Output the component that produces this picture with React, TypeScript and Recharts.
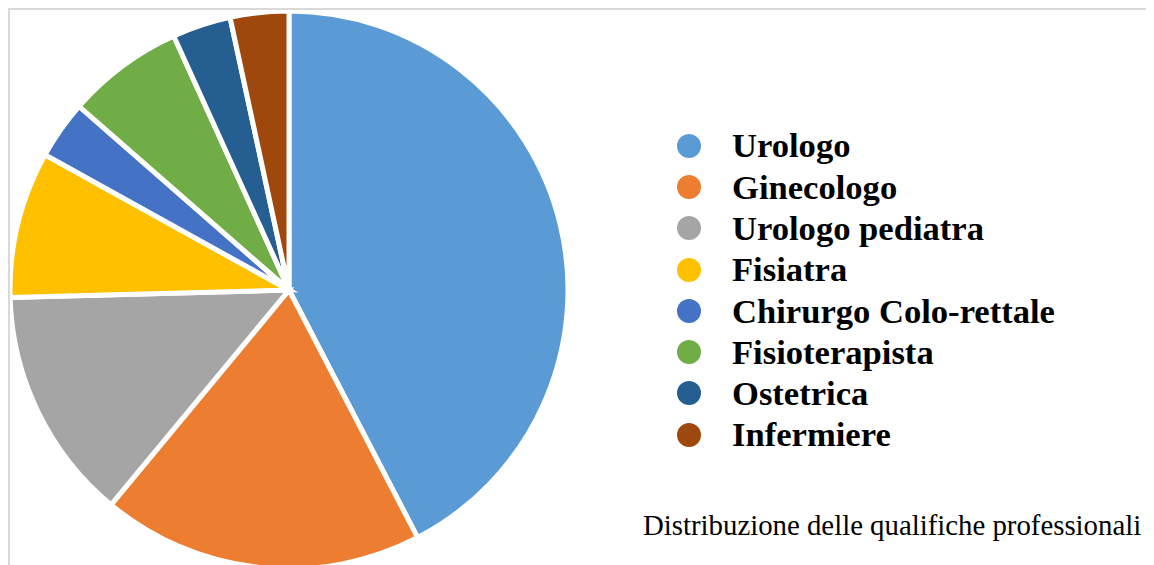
import React from "react";
import { PieChart, Pie, Cell } from "recharts";

const categories = [
  "Urologo",
  "Ginecologo",
  "Urologo pediatra",
  "Fisiatra",
  "Chirurgo Colo-rettale",
  "Fisioterapista",
  "Ostetrica",
  "Infermiere",
];
const counts = [25, 11, 8, 5, 2, 4, 2, 2];
const colors = ["#5B9BD5", "#ED7D31", "#A5A5A5", "#FFC000", "#4472C4", "#70AD47", "#255E91", "#9E480E"];
const title = "Distribuzione delle qualifiche professionali";

const data = categories.map((name, i) => ({ name, value: counts[i] }));

const serif = "'Liberation Serif', 'Times New Roman', serif";

export default function App() {
  return (
    <div style={{ position: "relative", width: 1146, height: 557, borderTop: "2px solid #d9d9d9", borderLeft: "2px solid #d9d9d9", overflow: "hidden" }}>
      <PieChart width={1150} height={560} margin={{ top: 0, right: 0, bottom: 0, left: 0 }}>
        <Pie
          data={data}
          dataKey="value"
          nameKey="name"
          cx={279}
          cy={280}
          outerRadius={279}
          startAngle={90}
          endAngle={-270}
          stroke="#ffffff"
          strokeWidth={5}
          isAnimationActive={false}
        >
          {data.map((d, i) => (
            <Cell key={d.name} fill={colors[i]} />
          ))}
        </Pie>
      </PieChart>

      {/* legend */}
      <div style={{ position: "absolute", left: 666, top: 115 }}>
        {categories.map((c, i) => (
          <div key={c} style={{ display: "flex", alignItems: "center", height: 41.3 }}>
            <svg width={26} height={26} style={{ marginRight: 30 }}>
              <circle cx={13} cy={13} r={12} fill={colors[i]} />
            </svg>
            <span style={{ fontFamily: serif, fontWeight: "bold", fontSize: 34.6, color: "#000", lineHeight: 1, whiteSpace: "nowrap" }}>
              {c}
            </span>
          </div>
        ))}
      </div>

      <div
        style={{
          position: "absolute",
          left: 633,
          top: 499,
          fontFamily: serif,
          fontSize: 28.8,
          color: "#000",
          whiteSpace: "nowrap",
        }}
      >
        {title}
      </div>
    </div>
  );
}
